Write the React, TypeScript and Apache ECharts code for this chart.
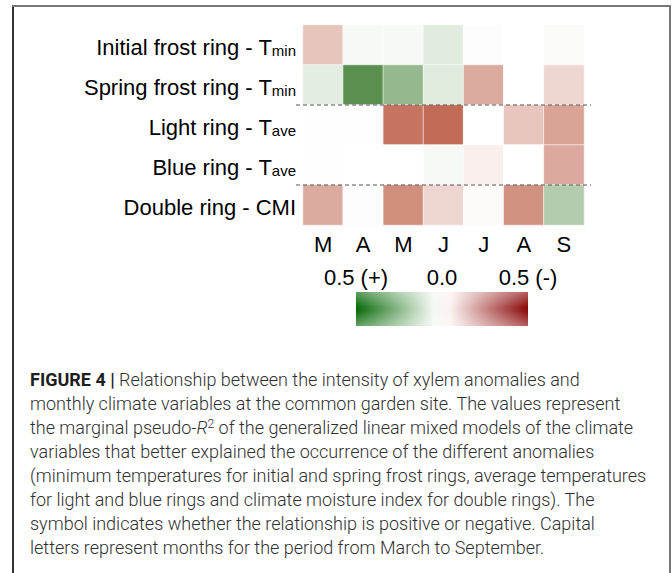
import React, { useEffect, useRef } from "react";
import * as echarts from "echarts";

const months = ["M", "A", "M", "J", "J", "A", "S"];
const rowNames = ["Initial frost ring - T", "Spring frost ring - T", "Light ring - T", "Blue ring - T", "Double ring - CMI"];
const rowSubs = ["min", "min", "ave", "ave", ""];

// signed marginal pseudo-R2 (+ = positive relationship, green; - = negative, red)
const initialFrost = [-0.14, 0.02, 0.02, 0.065, -0.005, 0, 0.01];
const springFrost = [0.06, 0.37, 0.235, 0.07, -0.2, 0, -0.095];
const lightRing = [-0.003, -0.003, -0.33, -0.35, 0, -0.135, -0.22];
const blueRing = [0.003, 0, 0, 0.02, -0.035, 0, -0.205];
const doubleRing = [-0.2, 0.005, -0.27, -0.1, -0.01, -0.26, 0.17];
const rowsValues = [initialFrost, springFrost, lightRing, blueRing, doubleRing];

const scaleLabels = ["0.5 (+)", "0.0", "0.5 (-)"];

const captionLines = [
  "{b|FIGURE 4 |} Relationship between the intensity of xylem anomalies and",
  "monthly climate variables at the common garden site. The values represent",
  "the marginal pseudo-{i|R}{sup|2} of the generalized linear mixed models of the climate",
  "variables that better explained the occurrence of the different anomalies",
  "(minimum temperatures for initial and spring frost rings, average temperatures",
  "for light and blue rings and climate moisture index for double rings). The",
  "symbol indicates whether the relationship is positive or negative. Capital",
  "letters represent months for the period from March to September.",
];

const LABEL_FONT = "Arial, 'Liberation Sans', Helvetica, sans-serif";
const CAPTION_FONT = "Roboto, 'Liberation Sans', Arial, sans-serif";

export default function App() {
  const ref = useRef<HTMLDivElement>(null);

  useEffect(() => {
    if (!ref.current) return;
    const chart = echarts.init(ref.current, null, { renderer: "svg" });

    const data: number[][] = [];
    rowsValues.forEach((row, r) => row.forEach((v, c) => data.push([c, r, v])));

    const gridLeft = 303;
    const gridTop = 25;
    const gridW = 281;
    const gridH = 200;

    const barX = 356;
    const barW = 172;
    const barY = 292;
    const barH = 34;

    const CAP_SIZE = 18;
    const CAP_COLOR = "#303030";
    const captionRich = {
      b: { fontFamily: CAPTION_FONT, fontSize: CAP_SIZE, fontWeight: "bold", fill: "#1e1e1e" },
      i: { fontFamily: CAPTION_FONT, fontSize: CAP_SIZE, fontStyle: "italic", fontWeight: 300, fill: CAP_COLOR },
      sup: { fontFamily: CAPTION_FONT, fontSize: 12, fontWeight: 300, fill: CAP_COLOR, verticalAlign: "top", lineHeight: 12 },
    };

    const baseGraphics: any[] = [
      { type: "line", shape: { x1: 13, y1: 6, x2: 13, y2: 580 }, style: { stroke: "#333", lineWidth: 2 } },
      { type: "line", shape: { x1: 12, y1: 6, x2: 670, y2: 6 }, style: { stroke: "#777", lineWidth: 2 } },
      { type: "line", shape: { x1: 670, y1: 5, x2: 670, y2: 580 }, style: { stroke: "#777", lineWidth: 2 } },
      {
        type: "rect",
        shape: { x: barX, y: barY, width: barW, height: barH },
        style: {
          fill: new echarts.graphic.LinearGradient(0, 0, 1, 0, [
            { offset: 0, color: "#0a6a0a" },
            { offset: 0.45, color: "#f4f8f2" },
            { offset: 0.55, color: "#fbf2f0" },
            { offset: 1, color: "#8b0a0a" },
          ]),
        },
      },
      {
        type: "rect",
        shape: { x: barX, y: barY, width: barW, height: barH },
        style: {
          fill: new echarts.graphic.LinearGradient(0, 0, 0, 1, [
            { offset: 0, color: "rgba(255,255,255,0.35)" },
            { offset: 0.45, color: "rgba(255,255,255,0)" },
            { offset: 0.55, color: "rgba(255,255,255,0)" },
            { offset: 1, color: "rgba(255,255,255,0.35)" },
          ]),
        },
      },
      ...scaleLabels.map((t, k) => ({
        type: "text",
        style: {
          x: barX + (barW * k) / 2,
          y: 277,
          text: t,
          align: "center",
          verticalAlign: "middle",
          fontSize: 22,
          fontFamily: LABEL_FONT,
          fill: "#000",
        },
      })),
      ...captionLines.map((t, k) => ({
        type: "text",
        style: {
          x: 30,
          y: 379 + k * 24,
          text: t,
          rich: captionRich,
          align: "left",
          verticalAlign: "middle",
          fontSize: CAP_SIZE,
          fontWeight: 300,
          fontFamily: CAPTION_FONT,
          fill: CAP_COLOR,
        },
      })),
    ];

    const option: any = {
      animation: false,
      backgroundColor: "#fff",
      grid: { left: gridLeft, top: gridTop, width: gridW, height: gridH },
      xAxis: {
        type: "category",
        data: months,
        axisLine: { show: false },
        axisTick: { show: false },
        splitLine: { show: false },
        axisLabel: { fontSize: 22, fontFamily: LABEL_FONT, color: "#000", margin: 8, interval: 0 },
      },
      yAxis: {
        type: "category",
        data: rowNames.map((n, i) => n + rowSubs[i]),
        inverse: true,
        axisLine: { show: false },
        axisTick: { show: false },
        splitLine: { show: false },
        axisLabel: {
          margin: 7,
          interval: 0,
          formatter: (_v: string, i: number) =>
            rowSubs[i] ? `{a|${rowNames[i]}}{s|${rowSubs[i]}}` : `{a|${rowNames[i]}}`,
          rich: {
            a: { fontSize: 22, fontFamily: LABEL_FONT, color: "#000", lineHeight: 26, verticalAlign: "bottom" },
            s: { fontSize: 15, fontFamily: LABEL_FONT, color: "#000", lineHeight: 12, verticalAlign: "bottom" },
          },
        },
      },
      visualMap: {
        show: false,
        min: -0.5,
        max: 0.5,
        dimension: 2,
        inRange: { color: ["#a82d0f", "#ffffff", "#20680f"] },
      },
      series: [
        {
          type: "heatmap",
          data,
          itemStyle: { borderColor: "rgba(255,255,255,0.6)", borderWidth: 1 },
          emphasis: { disabled: true },
        },
      ],
      graphic: baseGraphics,
    };

    chart.setOption(option);

    const yAt = (idx: number) => (chart.convertToPixel({ gridIndex: 0 }, [0, idx]) as number[])[1];
    const dashAfter = [1, 3];
    const dashes = dashAfter.map((r) => {
      const y = (yAt(r) + yAt(r + 1)) / 2;
      return {
        type: "line",
        shape: { x1: gridLeft - 7, y1: y, x2: gridLeft + gridW + 7, y2: y },
        style: { stroke: "#555", lineWidth: 1.2, lineDash: [4, 3] },
        z: 100,
      };
    });
    chart.setOption({ graphic: [...baseGraphics, ...dashes] });

    return () => chart.dispose();
  }, []);

  return <div ref={ref} style={{ position: "absolute", left: 0, top: 0, width: 672, height: 573 }} />;
}
